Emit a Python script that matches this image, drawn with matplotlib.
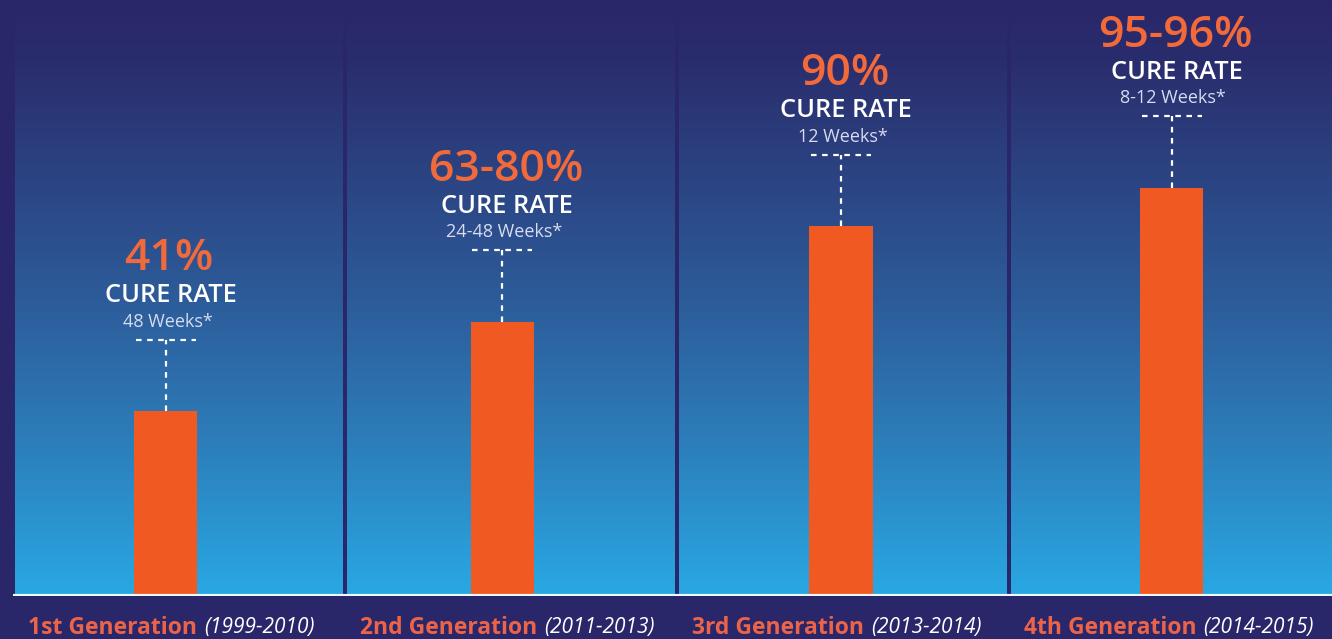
import matplotlib.pyplot as plt
import numpy as np
from matplotlib.colors import LinearSegmentedColormap

plt.rcParams['font.family'] = ['Open Sans', 'DejaVu Sans']

# data
generations = ['1st Generation', '2nd Generation', '3rd Generation', '4th Generation']
years = ['(1999-2010)', '(2011-2013)', '(2013-2014)', '(2014-2015)']
cure_rates = ['41%', '63-80%', '90%', '95-96%']
durations = ['48 Weeks*', '24-48 Weeks*', '12 Weeks*', '8-12 Weeks*']
bar_heights = [31.0, 46.0, 62.0, 68.5]

# small sideways nudge of each bar inside its panel
bar_shift = [-0.04, -0.026, -0.006, -0.01]

navy = '#29266a'
orange = '#f05a22'
text_orange = '#f26a3a'
label_orange = '#ec6448'

fig = plt.figure(figsize=(13.32, 6.39), dpi=100)
fig.patch.set_facecolor(navy)
ax = fig.add_axes([13 / 1332, 43 / 639, 1328 / 1332, 596 / 639])
ax.axis('off')

# gradient panels behind the bars
grad = LinearSegmentedColormap.from_list('panel', [
    (0.0, '#29a8e3'), (0.25, '#2c7fbb'), (0.5, '#2d5b99'),
    (0.75, '#2b3e7d'), (0.9, '#2a2d6d'), (1.0, navy)])
ramp = np.linspace(0, 1, 256).reshape(-1, 1)
gap = 0.0075
for i in range(len(generations)):
    ax.imshow(ramp, cmap=grad, origin='lower', aspect='auto',
              extent=(i - 0.5 + gap, i + 0.5 - gap, 0, 100), zorder=0)
ax.set_xlim(-0.5, 3.5)
ax.set_ylim(0, 100)

x = np.arange(len(generations)) + np.array(bar_shift)
ax.bar(x, bar_heights, width=0.19, color=orange, zorder=2)

# white base line
ax.axhline(0, color='#eef8ff', lw=3, zorder=3)

for i, h in enumerate(bar_heights):
    xc = x[i]
    line_y = h + 12
    ax.plot([xc - 0.09, xc + 0.09], [line_y, line_y], color='white', lw=1.6,
            ls=(0, (2.5, 2.5)), zorder=3)
    ax.plot([xc, xc], [h, line_y], color='white', lw=1.6,
            ls=(0, (2.5, 2.5)), zorder=3)
    ax.text(xc + 0.005, h + 15.0, durations[i], color='#d8dcf0', fontsize=13,
            ha='center', va='center')
    ax.text(xc + 0.015, h + 19.4, 'CURE RATE', color='white', fontsize=18.3,
            fontweight='semibold', ha='center', va='center')
    ax.text(xc + 0.01, h + 25.6, cure_rates[i], color=text_orange, fontsize=32,
            fontweight='semibold', ha='center', va='center')

    gen = ax.text(i - 0.455, -5.3, generations[i], color=label_orange,
                  fontsize=16.5, fontweight='bold', ha='left', va='center',
                  clip_on=False)
    ax.annotate(years[i], xy=(1, 0.5), xycoords=gen, xytext=(5, 0),
                textcoords='offset points', color='white', fontsize=15,
                fontstyle='italic', ha='left', va='center')

fig.savefig('out.png', dpi=100, facecolor=navy)
